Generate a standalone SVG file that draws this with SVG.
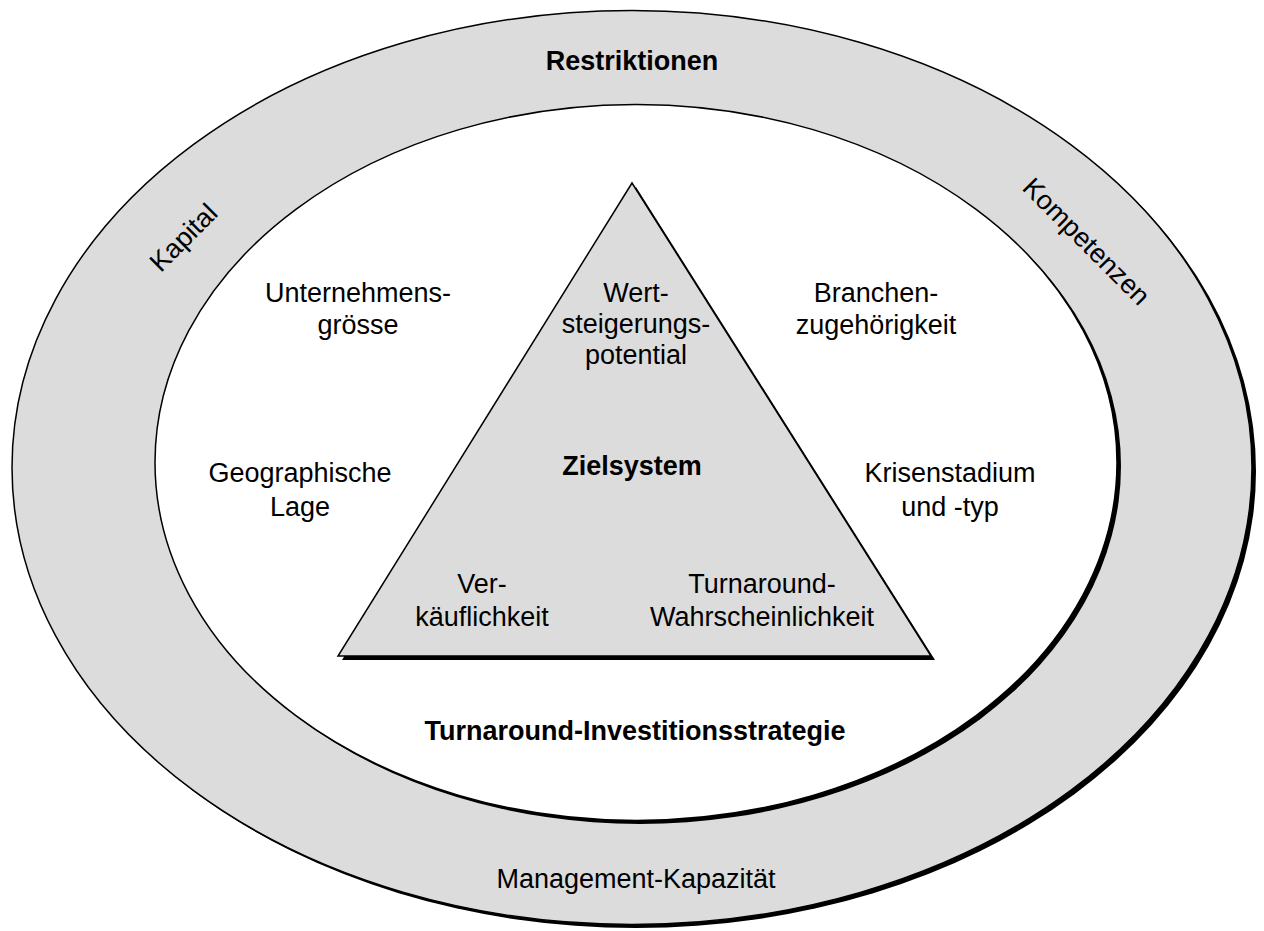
<svg xmlns="http://www.w3.org/2000/svg" width="1264" height="931" viewBox="0 0 1264 931">
<style>
.t{font-family:"Liberation Sans",Arial,sans-serif;font-size:27px;fill:#000;text-anchor:middle}
.b{font-weight:bold}
.sh{fill:#000}
.ring{fill:#dcdcdc;stroke:#000;stroke-width:1.5}
.in{fill:#fff;stroke:#000;stroke-width:1.5}
</style>
<rect width="1264" height="931" fill="#fff"/>
<g id="outer">
<ellipse class="sh" cx="636" cy="471" rx="620" ry="457"/>
<ellipse class="ring" cx="632" cy="467.5" rx="620" ry="457"/>
<text class="t b" x="632" y="70">Restriktionen</text>
<text class="t" transform="translate(190,244) rotate(-45)" x="0" y="0">Kapital</text>
<text class="t" transform="translate(1080,248) rotate(45)" x="0" y="0">Kompetenzen</text>
<text class="t" x="636" y="888">Management-Kapazität</text>
</g>
<g id="inner">
<ellipse class="sh" cx="640" cy="466" rx="481" ry="358"/>
<ellipse class="in" cx="636" cy="462.5" rx="481" ry="358"/>
<text class="t" x="358" y="302">Unternehmens-</text>
<text class="t" x="358" y="334">grösse</text>
<text class="t" x="876" y="302">Branchen-</text>
<text class="t" x="876" y="334">zugehörigkeit</text>
<text class="t" x="300" y="482">Geographische</text>
<text class="t" x="300" y="516">Lage</text>
<text class="t" x="950" y="482">Krisenstadium</text>
<text class="t" x="950" y="516">und -typ</text>
<text class="t b" x="635" y="740">Turnaround-Investitionsstrategie</text>
</g>
<g id="triangle">
<polygon class="sh" points="636,187 935,660 342,660"/>
<polygon class="ring" points="632,183 931,656 338,656"/>
<text class="t" x="636" y="302">Wert-</text>
<text class="t" x="636" y="333">steigerungs-</text>
<text class="t" x="636" y="364">potential</text>
<text class="t b" x="632" y="475">Zielsystem</text>
<text class="t" x="482" y="593">Ver-</text>
<text class="t" x="482" y="626">käuflichkeit</text>
<text class="t" x="762" y="593">Turnaround-</text>
<text class="t" x="762" y="626">Wahrscheinlichkeit</text>
</g>
<g id="connectors"/>
</svg>
